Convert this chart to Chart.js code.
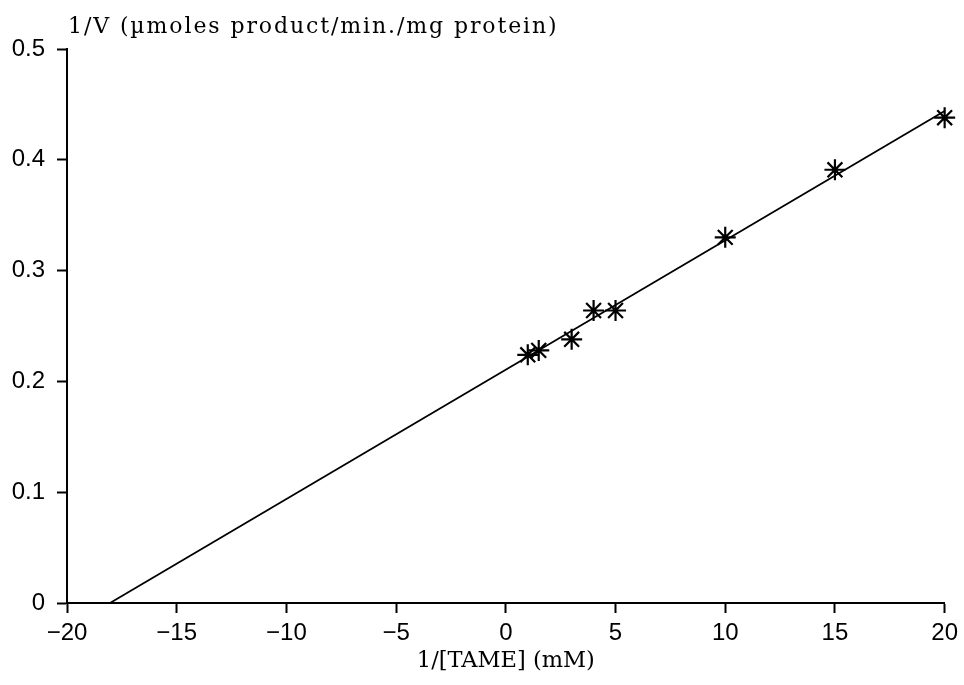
<!DOCTYPE html>
<html>
<head>
<meta charset="utf-8">
<script src="https://cdn.jsdelivr.net/npm/chart.js@4/dist/chart.umd.min.js"></script>
<style>
  html, body { margin: 0; padding: 0; background: #fff; }
  #wrap { width: 964px; height: 685px; position: relative; }
</style>
</head>
<body>
<div id="wrap"><canvas id="myChart"></canvas></div>
<script>
// measured points, 1/[TAME] vs 1/V
const inverseConc = [1, 1.5, 3, 4, 5, 10, 15, 20];
const inverseRate = [0.224, 0.228, 0.238, 0.264, 0.264, 0.330, 0.391, 0.438];

// fitted Lineweaver-Burk line (endpoints)
const fitX = [-18.04, 20];
const fitY = [0, 0.444];

const xTicks = [-20, -15, -10, -5, 0, 5, 10, 15, 20];
const yTicks = [0, 0.1, 0.2, 0.3, 0.4, 0.5];

const yTitle = '1/V (\u00b5moles product/min./mg protein)';
const xTitle = '1/[TAME] (mM)';

const serif = '"DejaVu Serif", "Liberation Serif", serif';
const sans = '"Liberation Sans", Arial, sans-serif';

const points = inverseConc.map((x, i) => ({ x: x, y: inverseRate[i] }));
const fitLine = fitX.map((x, i) => ({ x: x, y: fitY[i] }));

// y title sits above the axis, not rotated
const topTitle = {
  id: 'topTitle',
  afterDraw(chart) {
    const ctx = chart.ctx;
    ctx.save();
    ctx.font = '22px ' + serif;
    ctx.letterSpacing = '1.9px';
    ctx.fillStyle = '#000';
    ctx.textAlign = 'left';
    ctx.textBaseline = 'middle';
    ctx.fillText(yTitle, chart.chartArea.left + 1, 27);
    ctx.restore();
  },
};

const ctx = document.getElementById('myChart');
new Chart(ctx, {
  data: {
    datasets: [
      {
        type: 'line',
        data: fitLine,
        borderColor: '#000',
        borderWidth: 1.8,
        pointRadius: 0,
        fill: false,
        clip: false,
      },
      {
        type: 'scatter',
        data: points,
        pointStyle: 'star',
        pointRadius: 10.5,
        borderColor: '#000',
        backgroundColor: '#000',
        pointBorderWidth: 2.2,
        clip: false,
      },
    ],
  },
  options: {
    responsive: true,
    maintainAspectRatio: false,
    animation: false,
    layout: {
      padding: { top: 49, right: 18, bottom: 0, left: 0 },
    },
    plugins: {
      legend: { display: false },
      title: { display: false },
      tooltip: { enabled: false },
    },
    scales: {
      x: {
        type: 'linear',
        min: -20,
        max: 20,
        afterBuildTicks: (axis) => {
          axis.ticks = xTicks.map((v) => ({ value: v }));
        },
        afterFit: (axis) => {
          axis.height = 82;
        },
        border: { display: true, color: '#000', width: 2 },
        grid: {
          drawOnChartArea: false,
          drawTicks: true,
          tickLength: 10,
          tickWidth: 2,
          color: '#000',
        },
        ticks: {
          color: '#000',
          padding: 6,
          maxRotation: 0,
          font: { family: sans, size: 24 },
          callback: (v) => String(v).replace('-', '\u2212'),
        },
        title: {
          display: true,
          text: xTitle,
          color: '#000',
          padding: { top: 0, bottom: 10 },
          font: { family: serif, size: 22.5 },
        },
      },
      y: {
        type: 'linear',
        min: 0,
        max: 0.5,
        afterBuildTicks: (axis) => {
          axis.ticks = yTicks.map((v) => ({ value: v }));
        },
        afterFit: (axis) => {
          axis.width = 67;
        },
        border: { display: true, color: '#000', width: 2 },
        grid: {
          drawOnChartArea: false,
          drawTicks: true,
          tickLength: 10,
          tickWidth: 2,
          color: '#000',
        },
        ticks: {
          color: '#000',
          padding: 12,
          font: { family: sans, size: 24 },
          callback: (v) => (v === 0 ? '0' : v.toFixed(1)),
        },
      },
    },
  },
  plugins: [topTitle],
});
</script>
</body>
</html>
